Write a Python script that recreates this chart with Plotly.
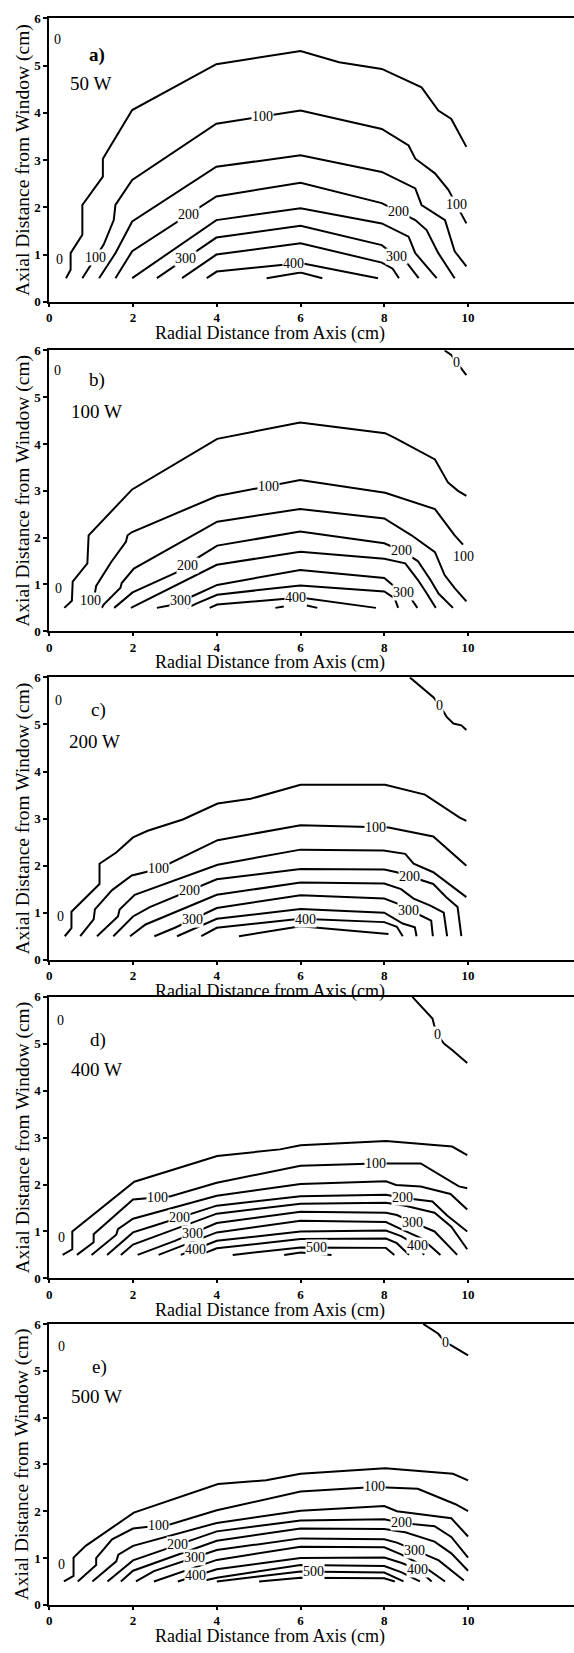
import plotly.graph_objects as go

W, H = 574, 1653
FONT = "Liberation Serif"

# ---------------- data ----------------
PANEL_A = {
    50: [(0.40, 0.5), (0.51, 0.68), (0.51, 1.03), (0.79, 1.42), (0.79, 2.05), (1.28, 2.65), (1.28, 3.03),
         (1.98, 4.06), (3.99, 5.03), (6.0, 5.31), (6.92, 5.07), (7.94, 4.93), (8.89, 4.54), (9.29, 4.05),
         (9.6, 3.87), (9.96, 3.28)],
    100: [(0.79, 0.5), (1.30, 1.21), (1.54, 1.73), (1.58, 2.05), (1.98, 2.58), (3.99, 3.77), (6.0, 4.05),
          (7.94, 3.66), (8.58, 3.31), (8.74, 3.03), (9.21, 2.72), (9.53, 2.37), (9.96, 1.66)],
    150: [(1.19, 0.5), (1.58, 1.03), (1.98, 1.70), (3.99, 2.86), (6.0, 3.10), (7.94, 2.75), (8.74, 2.40),
          (8.89, 2.05), (9.45, 1.73), (9.68, 1.07), (9.96, 0.75)],
    200: [(1.58, 0.5), (1.98, 1.07), (3.99, 2.23), (6.0, 2.52), (7.94, 2.09), (8.74, 1.73), (9.01, 1.52),
          (9.29, 1.03), (9.68, 0.5)],
    250: [(1.98, 0.5), (3.99, 1.73), (6.0, 1.98), (7.94, 1.66), (8.58, 1.38), (8.74, 1.03), (9.25, 0.5)],
    300: [(2.57, 0.5), (3.99, 1.36), (6.0, 1.61), (7.94, 1.2), (8.3, 0.95), (8.57, 0.79), (8.82, 0.5)],
    350: [(3.17, 0.5), (3.99, 1.0), (6.0, 1.24), (7.94, 0.83), (8.2, 0.7), (8.35, 0.5)],
    400: [(3.76, 0.5), (4.0, 0.64), (6.0, 0.82), (7.85, 0.5)],
    450: [(5.19, 0.5), (6.0, 0.62), (6.52, 0.5)],
}
PANEL_B = {
    50: [(0.36, 0.5), (0.54, 0.65), (0.56, 1.06), (0.91, 1.45), (0.94, 2.05), (1.98, 3.03), (4.01, 4.11),
         (5.99, 4.46), (8.02, 4.23), (8.25, 4.13), (9.21, 3.67), (9.52, 3.18), (9.76, 3.0), (9.96, 2.89)],
    100: [(0.85, 0.5), (1.08, 0.76), (1.12, 0.97), (1.48, 1.48), (1.83, 1.91), (1.87, 2.05), (1.98, 2.12),
          (4.01, 2.89), (5.99, 3.23), (8.02, 2.96), (9.21, 2.61), (9.68, 2.05), (9.88, 1.85)],
    150: [(1.25, 0.5), (1.30, 0.57), (1.70, 0.93), (1.73, 1.03), (2.02, 1.34), (4.01, 2.34), (5.99, 2.61),
          (8.0, 2.41), (8.65, 2.05), (9.21, 1.69), (9.44, 1.2), (9.68, 0.92), (9.96, 0.64)],
    200: [(1.55, 0.5), (1.99, 0.83), (3.04, 1.26), (3.51, 1.55), (4.01, 1.83), (5.99, 2.13), (8.0, 1.88),
          (8.41, 1.72), (8.8, 1.5), (9.1, 1.1), (9.3, 0.8), (9.64, 0.5)],
    250: [(1.95, 0.5), (4.0, 1.42), (5.99, 1.70), (8.0, 1.55), (8.5, 1.45), (8.8, 1.1), (9.0, 0.83),
          (9.23, 0.5)],
    300: [(2.57, 0.5), (2.86, 0.55), (3.47, 0.77), (4.01, 0.99), (5.99, 1.31), (8.0, 1.14), (8.38, 0.85),
          (8.6, 0.75), (8.79, 0.5)],
    350: [(3.3, 0.5), (3.51, 0.59), (4.01, 0.78), (5.99, 0.98), (8.0, 0.85), (8.25, 0.7), (8.33, 0.5)],
    400: [(3.83, 0.5), (4.01, 0.57), (5.99, 0.72), (7.8, 0.5)],
    450: [(5.4, 0.5), (5.6, 0.53), (None, None), (6.15, 0.55), (6.4, 0.5)],
}
PANEL_C = {
    50: [(0.37, 0.5), (0.53, 0.67), (0.53, 1.02), (1.2, 1.61), (1.2, 2.04), (1.6, 2.28), (2.0, 2.6),
         (2.35, 2.74), (3.19, 2.98), (4.02, 3.32), (4.81, 3.42), (6.0, 3.72), (8.02, 3.72), (8.97, 3.51),
         (9.8, 3.02), (9.96, 2.95)],
    100: [(0.74, 0.5), (1.06, 0.86), (1.09, 1.07), (1.5, 1.48), (1.97, 1.79), (2.6, 1.93), (4.02, 2.54),
          (6.0, 2.86), (8.1, 2.81), (9.17, 2.62), (9.96, 2.0)],
    150: [(1.14, 0.5), (1.64, 0.92), (1.68, 1.07), (2.04, 1.38), (4.02, 2.02), (6.0, 2.34), (7.98, 2.32),
          (8.5, 2.25), (8.7, 2.04), (9.17, 1.86), (9.96, 1.33)],
    200: [(1.53, 0.5), (2.0, 0.92), (2.4, 1.12), (4.0, 1.71), (6.0, 1.93), (8.0, 1.92), (8.3, 1.86),
          (8.93, 1.68), (9.17, 1.61), (9.48, 1.33), (9.75, 1.12), (9.84, 0.5)],
    250: [(1.93, 0.5), (2.3, 0.75), (4.0, 1.38), (6.0, 1.64), (8.0, 1.62), (8.4, 1.5), (8.7, 1.3),
          (9.1, 1.15), (9.42, 1.0), (9.5, 0.5)],
    300: [(2.51, 0.5), (3.0, 0.68), (4.0, 1.1), (6.0, 1.37), (8.0, 1.3), (8.3, 1.2), (8.6, 1.02),
          (8.87, 0.94), (9.12, 0.83), (9.16, 0.5)],
    350: [(3.05, 0.5), (3.4, 0.63), (4.0, 0.87), (6.0, 1.08), (8.0, 1.0), (8.44, 0.77), (8.73, 0.69),
          (8.77, 0.5)],
    400: [(3.63, 0.5), (4.0, 0.68), (6.0, 0.87), (8.0, 0.8), (8.3, 0.7), (8.44, 0.5)],
    450: [(4.53, 0.5), (6.0, 0.71), (8.1, 0.55)],
}
PANEL_D = {
    50: [(0.32, 0.5), (0.55, 0.62), (0.55, 1.0), (1.92, 2.0), (2.03, 2.06), (4.01, 2.61), (5.51, 2.75),
         (6.0, 2.84), (8.04, 2.93), (9.62, 2.81), (9.98, 2.63)],
    100: [(0.66, 0.5), (1.06, 0.77), (1.06, 0.94), (2.0, 1.68), (2.9, 1.75), (4.0, 2.04), (6.0, 2.4),
          (7.8, 2.45), (8.87, 2.45), (9.78, 1.96), (9.98, 1.92)],
    150: [(1.01, 0.5), (1.6, 0.93), (1.64, 1.05), (2.0, 1.27), (4.0, 1.76), (6.0, 2.01), (8.04, 2.07),
          (8.28, 1.99), (8.87, 1.96), (9.58, 1.8), (9.98, 1.47)],
    200: [(1.38, 0.5), (2.0, 0.98), (2.5, 1.12), (4.0, 1.55), (6.0, 1.75), (8.04, 1.78), (8.43, 1.72),
          (9.15, 1.64), (9.5, 1.34), (9.98, 1.0)],
    250: [(1.71, 0.5), (2.0, 0.72), (4.0, 1.38), (6.0, 1.59), (8.04, 1.61), (8.5, 1.55), (9.2, 1.4),
          (9.6, 1.1), (9.98, 0.62)],
    300: [(2.11, 0.5), (3.0, 0.8), (4.0, 1.18), (6.0, 1.42), (8.04, 1.40), (8.3, 1.35), (8.67, 1.2),
          (9.2, 1.0), (9.74, 0.5)],
    350: [(2.61, 0.5), (4.0, 0.98), (6.0, 1.23), (8.04, 1.2), (8.4, 1.05), (8.9, 0.85), (9.34, 0.5)],
    400: [(3.14, 0.5), (4.0, 0.8), (6.0, 1.0), (8.04, 1.02), (8.4, 0.9), (8.79, 0.7), (8.95, 0.5)],
    450: [(3.6, 0.5), (4.0, 0.64), (6.0, 0.84), (8.04, 0.85), (8.3, 0.75), (8.59, 0.5)],
    500: [(4.38, 0.5), (6.0, 0.66), (8.04, 0.65), (8.24, 0.5)],
    550: [(5.61, 0.5), (6.0, 0.55), (6.74, 0.5)],
}
PANEL_E = {
    50: [(0.35, 0.5), (0.58, 0.62), (0.58, 1.01), (0.87, 1.26), (2.02, 1.97), (4.03, 2.58), (5.18, 2.66),
         (6.0, 2.8), (8.02, 2.92), (9.64, 2.8), (10.0, 2.66)],
    100: [(0.68, 0.5), (1.12, 0.85), (1.12, 1.0), (1.5, 1.4), (2.0, 1.63), (2.9, 1.72), (4.0, 2.02),
          (6.0, 2.42), (7.76, 2.52), (8.8, 2.48), (9.7, 2.15), (10.0, 2.0)],
    150: [(1.03, 0.5), (1.6, 0.93), (1.65, 1.07), (2.0, 1.26), (4.0, 1.75), (6.0, 2.01), (8.0, 2.11),
          (8.3, 2.0), (9.0, 1.92), (9.6, 1.85), (10.0, 1.46)],
    200: [(1.39, 0.5), (2.0, 0.95), (4.0, 1.57), (6.0, 1.8), (8.0, 1.83), (8.41, 1.75), (9.2, 1.68),
          (9.6, 1.45), (10.0, 1.01)],
    250: [(1.71, 0.5), (2.0, 0.73), (4.0, 1.37), (6.0, 1.63), (8.0, 1.62), (8.5, 1.55), (9.2, 1.35),
          (9.6, 1.1), (10.0, 0.73)],
    300: [(2.07, 0.5), (2.5, 0.72), (4.0, 1.17), (6.0, 1.42), (8.0, 1.40), (8.3, 1.33), (8.73, 1.17),
          (9.3, 0.95), (9.9, 0.52)],
    350: [(2.5, 0.5), (4.0, 0.96), (6.0, 1.24), (8.0, 1.23), (8.4, 1.08), (8.9, 0.85), (9.45, 0.5)],
    400: [(3.07, 0.5), (4.0, 0.76), (6.0, 1.0), (8.0, 1.01), (8.4, 0.9), (8.8, 0.76), (9.13, 0.5)],
    450: [(3.6, 0.5), (4.0, 0.58), (6.0, 0.85), (8.0, 0.83), (8.4, 0.7), (8.85, 0.5)],
    500: [(4.0, 0.5), (6.0, 0.71), (8.0, 0.69), (8.46, 0.5)],
    550: [(5.01, 0.5), (6.0, 0.58), (8.0, 0.57), (8.25, 0.5)],
}
# zero-level contour in the upper right corner
ZERO_A = []
ZERO_B = [(9.44, 6.0), (9.6, 5.9), (9.72, 5.75), (9.84, 5.6), (9.96, 5.47)]
ZERO_C = [(8.61, 6.0), (9.17, 5.58), (9.33, 5.4), (9.49, 5.16), (9.65, 5.02), (9.84, 4.98), (9.96, 4.88)]
ZERO_D = [(8.67, 6.0), (9.15, 5.54), (9.19, 5.4), (9.27, 5.19), (9.43, 5.0), (9.62, 4.87), (9.98, 4.59)]
ZERO_E = [(8.93, 6.0), (9.29, 5.79), (9.45, 5.61), (9.6, 5.54), (10.0, 5.33)]
ZERO_LABEL_X = [None, 9.72, 9.33, 9.27, 9.45]

# contour labels: (level, x along the line, vertical offset)
LABELS_A = [(100, 1.1, 0), (100, 5.1, 0), (100, 9.72, 0), (200, 3.32, 0), (200, 8.34, 0),
            (300, 3.25, 0), (300, 8.28, 0), (400, 5.84, 0)]
LABELS_B = [(100, 0.98, 0), (100, 5.24, 0), (100, 9.88, -0.25), (200, 3.29, 0), (200, 8.41, 0),
            (300, 3.14, 0), (300, 8.45, 0), (400, 5.87, 0)]
LABELS_C = [(100, 2.62, 0), (100, 7.8, 0), (200, 3.34, 0), (200, 8.6, 0), (300, 3.42, 0),
            (300, 8.57, 0), (400, 6.12, 0)]
LABELS_D = [(100, 2.58, 0), (100, 7.8, 0), (200, 3.12, 0), (200, 8.43, 0), (300, 3.41, 0),
            (300, 8.67, 0), (400, 3.5, 0), (400, 8.79, 0), (500, 6.37, 0)]
LABELS_E = [(100, 2.6, 0), (100, 7.76, 0), (200, 3.07, 0), (200, 8.41, 0), (300, 3.47, 0),
            (300, 8.73, 0), (400, 3.5, 0), (400, 8.8, 0), (500, 6.3, 0)]

# small "0" marks along the left edge
EDGE_ZERO = [[(0.06, 5.55), (0.12, 0.9)], [(0.06, 5.58), (0.08, 0.92)], [(0.1, 5.5), (0.13, 0.91)],
             [(0.13, 5.5), (0.16, 0.88)], [(0.16, 5.52), (0.16, 0.87)]]

TAGS = ["a)", "b)", "c)", "d)", "e)"]
POWERS = ["50 W", "100 W", "200 W", "400 W", "500 W"]
X_TICKS = [0, 2, 4, 6, 8, 10]
Y_TICKS = [0, 1, 2, 3, 4, 5, 6]
X_TITLE = "Radial Distance from Axis (cm)"
Y_TITLE = "Axial Distance from Window (cm)"

PANELS = [PANEL_A, PANEL_B, PANEL_C, PANEL_D, PANEL_E]
ZEROS = [ZERO_A, ZERO_B, ZERO_C, ZERO_D, ZERO_E]
LABELS = [LABELS_A, LABELS_B, LABELS_C, LABELS_D, LABELS_E]

# ---------------- layout geometry (pixels) ----------------
PX_X0, PX_X10 = 46.5, 467.5
PANEL_PX = [(11.5, 297.5), (346.5, 630.0), (676.5, 961.5), (999.0, 1283.0), (1329.0, 1612.5)]
TAG_POS = [(1.15, 5.23), (1.15, 5.36), (1.17, 5.3), (1.16, 5.08), (1.19, 5.08)]
POWER_POS = [(0.45, 4.62), (0.46, 4.69), (0.43, 4.63), (0.47, 4.45), (0.48, 4.45)]
X_MAX = (W - PX_X0) / (PX_X10 - PX_X0) * 10


def y_on(pts, x):
    for (x0, y0), (x1, y1) in zip(pts[:-1], pts[1:]):
        if x0 is None or x1 is None or x0 == x1:
            continue
        if min(x0, x1) <= x <= max(x0, x1):
            return y0 + (y1 - y0) * (x - x0) / (x1 - x0)
    return pts[-1][1]


fig = go.Figure()
annotations = []
layout = dict(width=W, height=H, margin=dict(l=0, r=0, t=0, b=0),
              paper_bgcolor="white", plot_bgcolor="white", showlegend=False)

line_style = dict(color="black", width=2)
lab_font = dict(family=FONT, size=14, color="black")
tick_font = dict(family=FONT, size=13, color="black", weight="bold")

for i in range(5):
    n = "" if i == 0 else str(i + 1)
    xa, ya = "x" + n, "y" + n
    top, bot = PANEL_PX[i]
    layout["xaxis" + n] = dict(
        domain=[PX_X0 / W, 1.0], range=[0, X_MAX], anchor=ya, tickvals=X_TICKS,
        showline=True, linecolor="black", linewidth=2, mirror=True, ticks="outside",
        ticklen=3, tickwidth=1.5, tickcolor="black", showgrid=False, zeroline=False,
        tickfont=tick_font)
    layout["yaxis" + n] = dict(
        domain=[1 - bot / H, 1 - top / H], range=[0, 6], anchor=xa, tickvals=Y_TICKS,
        showline=True, linecolor="black", linewidth=2, ticks="outside",
        ticklen=4, tickwidth=1.5, tickcolor="black", showgrid=False, zeroline=False,
        tickfont=tick_font)

    for lvl, pts in PANELS[i].items():
        fig.add_trace(go.Scatter(x=[p[0] for p in pts], y=[p[1] for p in pts], mode="lines",
                                 line=line_style, xaxis=xa, yaxis=ya, hoverinfo="skip",
                                 connectgaps=False))
    if ZEROS[i]:
        z = ZEROS[i]
        fig.add_trace(go.Scatter(x=[p[0] for p in z], y=[p[1] for p in z], mode="lines",
                                 line=line_style, xaxis=xa, yaxis=ya, hoverinfo="skip"))
        zx = ZERO_LABEL_X[i]
        annotations.append(dict(x=zx, y=y_on(z, zx), xref=xa, yref=ya, text="0", showarrow=False,
                                bgcolor="white", borderpad=0, font=lab_font))

    for lvl, lx, dy in LABELS[i]:
        pts = PANELS[i][lvl]
        annotations.append(dict(x=lx, y=y_on(pts, lx) + dy, xref=xa, yref=ya, text=str(lvl),
                                showarrow=False, bgcolor="white", borderpad=0, font=lab_font))
    for zx, zy in EDGE_ZERO[i]:
        annotations.append(dict(x=zx, y=zy, xref=xa, yref=ya, text="0", showarrow=False,
                                xanchor="left", yanchor="middle", font=lab_font))

    annotations.append(dict(x=TAG_POS[i][0], y=TAG_POS[i][1], xref=xa, yref=ya, text=TAGS[i],
                            showarrow=False, xanchor="center", yanchor="middle",
                            font=dict(family=FONT, size=19, color="black",
                                      weight="bold" if i == 0 else "normal")))
    annotations.append(dict(x=POWER_POS[i][0], y=POWER_POS[i][1], xref=xa, yref=ya, text=POWERS[i],
                            showarrow=False, xanchor="left", yanchor="middle",
                            font=dict(family=FONT, size=19, color="black")))
    # axis titles
    annotations.append(dict(x=268 / W, y=1 - (bot + 32) / H, xref="paper", yref="paper",
                            text=X_TITLE, showarrow=False, xanchor="center", yanchor="middle",
                            font=dict(family=FONT, size=18, color="black")))
    annotations.append(dict(x=20 / W, y=1 - (top + bot) / 2 / H, xref="paper", yref="paper",
                            text=Y_TITLE, showarrow=False, textangle=-90,
                            xanchor="center", yanchor="middle",
                            font=dict(family=FONT, size=19.5, color="black")))

layout["annotations"] = annotations
fig.update_layout(**layout)
fig.write_html("out.html")
